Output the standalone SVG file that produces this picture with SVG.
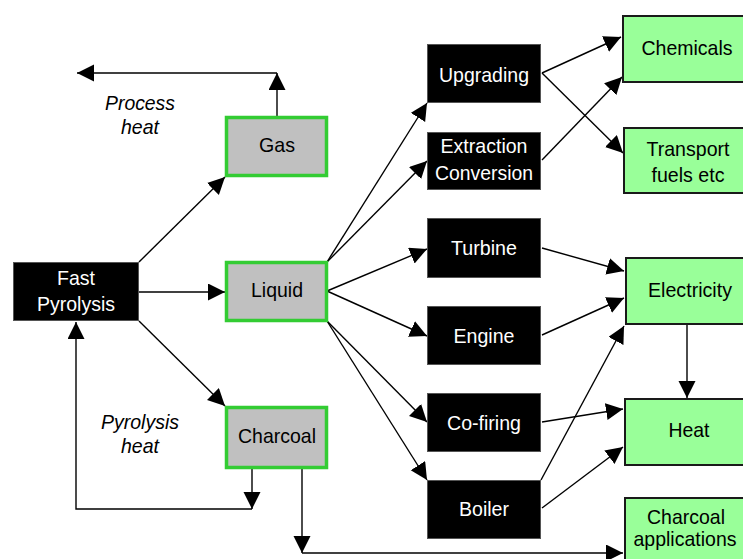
<svg xmlns="http://www.w3.org/2000/svg" width="743" height="559" viewBox="0 0 743 559">
<style>
  .t { font-family: "Liberation Sans", Arial, sans-serif; font-size: 21px; text-anchor: middle; }
  .w { fill: #ffffff; }
  .k { fill: #000000; }
  .it { font-style: italic; }
  .blk { fill: #000000; stroke: #555555; stroke-width: 1; }
  .gry { fill: #c0c0c0; stroke: #33cc33; stroke-width: 3.5; }
  .grn { fill: #99ff99; stroke: #1a1a1a; stroke-width: 2; }
  .c { fill: none; stroke: #000000; stroke-width: 1.4; }
</style>
<defs>
  <marker id="ah" markerUnits="userSpaceOnUse" markerWidth="18" markerHeight="18" refX="17" refY="8.5" orient="auto">
    <path d="M0,0 L17,8.5 L0,17 z" fill="#000000"/>
  </marker>
</defs>

<g id="connectors">
  <line class="c" x1="139" y1="262" x2="225" y2="177" marker-end="url(#ah)"/>
  <line class="c" x1="139" y1="292" x2="225" y2="292" marker-end="url(#ah)"/>
  <line class="c" x1="139" y1="321" x2="225" y2="406" marker-end="url(#ah)"/>
  <line class="c" x1="277" y1="116" x2="277" y2="73" marker-end="url(#ah)"/>
  <line class="c" x1="277" y1="73" x2="77" y2="73" marker-end="url(#ah)"/>
  <line class="c" x1="252" y1="469" x2="252" y2="509" marker-end="url(#ah)"/>
  <polyline class="c" points="252,509 76,509 76,322" marker-end="url(#ah)"/>
  <line class="c" x1="302" y1="469" x2="302" y2="553" marker-end="url(#ah)"/>
  <line class="c" x1="302" y1="553" x2="623" y2="553" marker-end="url(#ah)"/>
  <line class="c" x1="327" y1="262" x2="427" y2="103" marker-end="url(#ah)"/>
  <line class="c" x1="327" y1="262" x2="427" y2="161" marker-end="url(#ah)"/>
  <line class="c" x1="327" y1="291" x2="427" y2="249" marker-end="url(#ah)"/>
  <line class="c" x1="327" y1="291" x2="427" y2="336" marker-end="url(#ah)"/>
  <line class="c" x1="327" y1="321" x2="427" y2="422" marker-end="url(#ah)"/>
  <line class="c" x1="327" y1="321" x2="427" y2="480" marker-end="url(#ah)"/>
  <line class="c" x1="542" y1="73" x2="621" y2="37" marker-end="url(#ah)"/>
  <line class="c" x1="542" y1="73" x2="623" y2="153" marker-end="url(#ah)"/>
  <line class="c" x1="542" y1="160" x2="622" y2="77" marker-end="url(#ah)"/>
  <line class="c" x1="542" y1="248" x2="624" y2="271" marker-end="url(#ah)"/>
  <line class="c" x1="542" y1="335" x2="624" y2="298" marker-end="url(#ah)"/>
  <line class="c" x1="541" y1="480" x2="624" y2="326" marker-end="url(#ah)"/>
  <line class="c" x1="687" y1="324" x2="687" y2="398" marker-end="url(#ah)"/>
  <line class="c" x1="542" y1="422" x2="623" y2="409" marker-end="url(#ah)"/>
  <line class="c" x1="542" y1="508" x2="623" y2="447" marker-end="url(#ah)"/>
</g>

<g id="fast-pyrolysis">
  <rect class="blk" x="13.5" y="262.5" width="125" height="58"/>
  <text class="t w" x="76" y="285" textLength="38" lengthAdjust="spacingAndGlyphs">Fast</text>
  <text class="t w" x="76" y="311" textLength="78" lengthAdjust="spacingAndGlyphs">Pyrolysis</text>
</g>
<g id="gas">
  <rect class="gry" x="226.5" y="117.5" width="100" height="58"/>
  <text class="t k" x="277" y="152" textLength="36" lengthAdjust="spacingAndGlyphs">Gas</text>
</g>
<g id="liquid">
  <rect class="gry" x="226.5" y="262.5" width="100" height="58"/>
  <text class="t k" x="277" y="297" textLength="52" lengthAdjust="spacingAndGlyphs">Liquid</text>
</g>
<g id="charcoal">
  <rect class="gry" x="226.5" y="407.5" width="100" height="60"/>
  <text class="t k" x="277" y="443" textLength="78" lengthAdjust="spacingAndGlyphs">Charcoal</text>
</g>
<g id="process-heat-label">
  <text class="t k it" x="140" y="110" textLength="70" lengthAdjust="spacingAndGlyphs">Process</text>
  <text class="t k it" x="140" y="134" textLength="38" lengthAdjust="spacingAndGlyphs">heat</text>
</g>
<g id="pyrolysis-heat-label">
  <text class="t k it" x="140" y="429" textLength="78" lengthAdjust="spacingAndGlyphs">Pyrolysis</text>
  <text class="t k it" x="140" y="453" textLength="38" lengthAdjust="spacingAndGlyphs">heat</text>
</g>
<g id="upgrading">
  <rect class="blk" x="427.5" y="44.5" width="113" height="58"/>
  <text class="t w" x="484" y="82" textLength="90" lengthAdjust="spacingAndGlyphs">Upgrading</text>
</g>
<g id="extraction-conversion">
  <rect class="blk" x="427.5" y="132.5" width="113" height="57"/>
  <text class="t w" x="484" y="153" textLength="87" lengthAdjust="spacingAndGlyphs">Extraction</text>
  <text class="t w" x="484" y="180" textLength="98" lengthAdjust="spacingAndGlyphs">Conversion</text>
</g>
<g id="turbine">
  <rect class="blk" x="427.5" y="218.5" width="113" height="59"/>
  <text class="t w" x="484" y="255" textLength="66" lengthAdjust="spacingAndGlyphs">Turbine</text>
</g>
<g id="engine">
  <rect class="blk" x="427.5" y="306.5" width="113" height="58"/>
  <text class="t w" x="484" y="343" textLength="61" lengthAdjust="spacingAndGlyphs">Engine</text>
</g>
<g id="co-firing">
  <rect class="blk" x="427.5" y="393.5" width="113" height="58"/>
  <text class="t w" x="484" y="430" textLength="74" lengthAdjust="spacingAndGlyphs">Co-firing</text>
</g>
<g id="boiler">
  <rect class="blk" x="427.5" y="480.5" width="113" height="58"/>
  <text class="t w" x="484" y="516" textLength="50" lengthAdjust="spacingAndGlyphs">Boiler</text>
</g>
<g id="chemicals">
  <rect class="grn" x="623" y="16" width="121" height="66"/>
  <text class="t k" x="687" y="55" textLength="91" lengthAdjust="spacingAndGlyphs">Chemicals</text>
</g>
<g id="transport-fuels">
  <rect class="grn" x="624" y="128" width="120" height="65"/>
  <text class="t k" x="688" y="156" textLength="83" lengthAdjust="spacingAndGlyphs">Transport</text>
  <text class="t k" x="688" y="182" textLength="73" lengthAdjust="spacingAndGlyphs">fuels etc</text>
</g>
<g id="electricity">
  <rect class="grn" x="626" y="258" width="118" height="66"/>
  <text class="t k" x="690" y="297" textLength="84" lengthAdjust="spacingAndGlyphs">Electricity</text>
</g>
<g id="heat">
  <rect class="grn" x="625" y="399" width="119" height="66"/>
  <text class="t k" x="689" y="437" textLength="41" lengthAdjust="spacingAndGlyphs">Heat</text>
</g>
<g id="charcoal-applications">
  <rect class="grn" x="625" y="498" width="119" height="62"/>
  <text class="t k" x="686" y="524" textLength="78" lengthAdjust="spacingAndGlyphs">Charcoal</text>
  <text class="t k" x="685" y="546" textLength="103" lengthAdjust="spacingAndGlyphs">applications</text>
</g>
</svg>
